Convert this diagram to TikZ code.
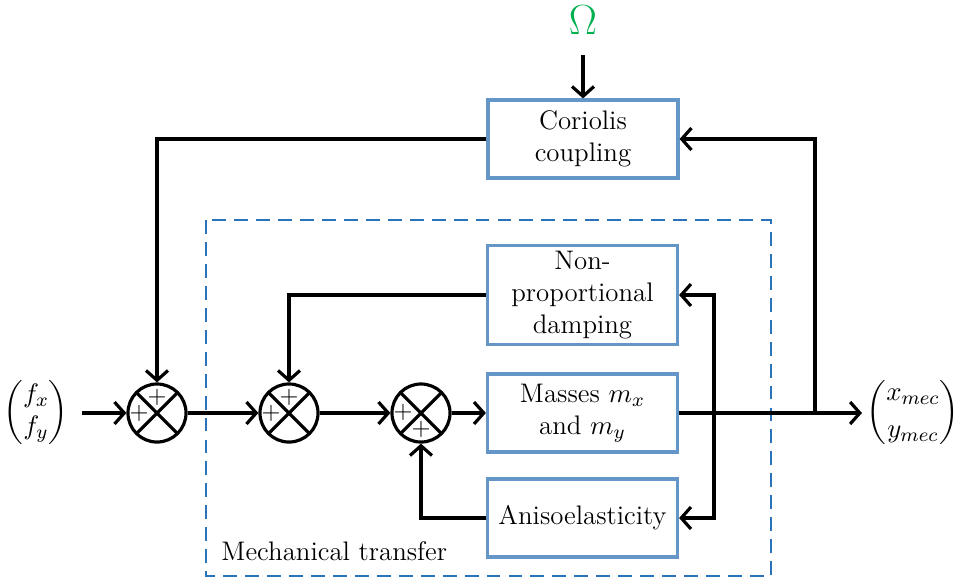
\documentclass[tikz,border=0pt]{standalone}
\usepackage{amsmath}
\usetikzlibrary{arrows.meta,calc}
\definecolor{boxblue}{RGB}{100,150,200}
\definecolor{dashblue}{RGB}{40,115,185}
\definecolor{omegagreen}{RGB}{0,175,80}
\begin{document}
\begin{tikzpicture}[x=0.41pt,y=-0.41pt,
  every node/.style={font=\fontsize{11}{13.2}\selectfont},
  blk/.style={draw=boxblue, line width=1.3pt, minimum width=77.9pt, minimum height=32pt, inner sep=0pt, align=center, fill=white},
  sumj/.style={circle, draw, line width=1.3pt, minimum size=23.8pt, inner sep=0pt,
    path picture={\draw[line width=1.3pt] (path picture bounding box.north west) -- (path picture bounding box.south east)
      (path picture bounding box.north east) -- (path picture bounding box.south west);}},
  arr/.style={line width=1.3pt, -{Straight Barb[length=4pt,width=9pt,line width=1.3pt]}},
  pl/.style={font=\fontsize{10}{12}\selectfont, inner sep=0pt}]
\useasboundingbox (0,0) rectangle (958,579);
% dashed frame
\draw[dashblue, line width=1pt, dash pattern=on 5.7pt off 3.3pt] (206,220) rectangle (771,576);
\node[anchor=west, inner sep=0pt] (mt) at (221,551) {Mechanical transfer};
% blocks
\node[blk] (cor) at (583,139) {Coriolis\\coupling};
\node[blk, minimum height=40.6pt] (damp) at (582.5,295) {Non-\\proportional\\damping};
\node[blk] (mass) at (582.5,413) {Masses $m_x$\\and $m_y$};
\node[blk] (aniso) at (582.5,518) {Anisoelasticity};
% summing junctions
\node[sumj] (s1) at (157,413) {};
\node[sumj] (s2) at (289,413) {};
\node[sumj] (s3) at (421,413) {};
\node[pl] (p1a) at ($(s1)+(0,-16)$) {+};
\node[pl] (p1b) at ($(s1)+(-18,0)$) {+};
\node[pl] (p2a) at ($(s2)+(0,-16)$) {+};
\node[pl] (p2b) at ($(s2)+(-18,0)$) {+};
\node[pl] (p3a) at ($(s3)+(-18,-1)$) {+};
\node[pl] (p3b) at ($(s3)+(0,16)$) {+};
% inputs / outputs
\node (in) at (36,412) {$\begin{pmatrix} f_x\\ f_y\end{pmatrix}$};
\node (out) at (913,412) {$\dbinom{x_{mec}}{y_{mec}}$};
\node[text=omegagreen, font=\fontsize{18}{20}\selectfont] (om) at (583,20) {$\Omega$};
\coordinate (ina) at (82,413);
\coordinate (outa) at (862,413);
\coordinate (oma) at (583,55);
\coordinate (b1) at (815,413);
\coordinate (b2) at (714,413);
% connectors
\draw[arr] (oma) -- (cor.north);
\draw[arr] (ina) -- (s1.west);
\draw[arr] (s1.east) -- (s2.west);
\draw[arr] (s2.east) -- (s3.west);
\draw[arr] (s3.east) -- (mass.west);
\draw[arr] (mass.east) -- (outa);
\draw[arr] (b1) |- (cor.east);
\draw[arr] (cor.west) -| (s1.north);
\draw[arr] (b2) |- (damp.east);
\draw[arr] (b2) |- (aniso.east);
\draw[arr] (damp.west) -| (s2.north);
\draw[arr] (aniso.west) -| (s3.south);
\end{tikzpicture}
\end{document}
